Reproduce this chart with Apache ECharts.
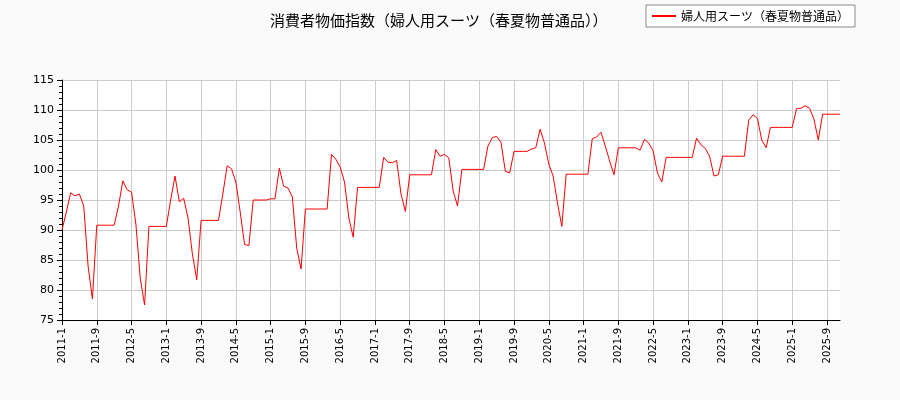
<!DOCTYPE html><html><head><meta charset="utf-8"><script src="https://cdn.jsdelivr.net/npm/echarts@6/dist/echarts.min.js"></script></head><body style="margin:0;background:#fafafa"><div id="c" style="width:900px;height:400px"></div><script>
const v2011=[90,93,96.2,95.7,96,94,84,78.5,90.8,90.8,90.8,90.8];
const v2012=[90.8,94,98.2,96.7,96.3,91,82,77.5,90.6,90.6,90.6,90.6];
const v2013=[90.6,95,99,94.7,95.3,92,86,81.7,91.6,91.6,91.6,91.6];
const v2014=[91.6,96,100.7,100.2,98,93,87.6,87.4,95,95,95,95];
const v2015=[95.2,95.2,100.3,97.3,97,95.5,87,83.5,93.5,93.5,93.5,93.5];
const v2016=[93.5,93.5,102.6,101.8,100.5,98,92,88.8,97.1,97.1,97.1,97.1];
const v2017=[97.1,97.1,102.1,101.3,101.2,101.6,96,93.1,99.2,99.2,99.2,99.2];
const v2018=[99.2,99.2,103.4,102.3,102.6,102,96.5,94,100.1,100.1,100.1,100.1];
const v2019=[100.1,100.1,104,105.4,105.6,104.6,99.8,99.5,103.1,103.1,103.1,103.1];
const v2020=[103.5,103.7,106.8,104.5,101,99,94.5,90.6,99.3,99.3,99.3,99.3];
const v2021=[99.3,99.3,105.2,105.5,106.3,104,101.5,99.2,103.7,103.7,103.7,103.7];
const v2022=[103.7,103.3,105.1,104.5,103.2,99.5,98,102.1,102.1,102.1,102.1,102.1];
const v2023=[102.1,102.1,105.3,104.2,103.6,102.3,99,99.2,102.3,102.3,102.3,102.3];
const v2024=[102.3,102.3,108.3,109.2,108.6,105,103.7,107.1,107.1,107.1,107.1,107.1];
const v2025=[107.1,110.2,110.3,110.7,110.3,108.5,105,109.3,109.3,109.3,109.3,109.3];
const values=[].concat(v2011,v2012,v2013,v2014,v2015,v2016,v2017,v2018,v2019,v2020,v2021,v2022,v2023,v2024,v2025);
const categories=[];for(let y=2011;y<=2025;y++)for(let m=1;m<=12;m++)categories.push(y+'-'+m);
const yTicks=[75,80,85,90,95,100,105,110,115];
const ch=echarts.init(document.getElementById('c'));
ch.setOption({backgroundColor:'#fafafa',animation:false,
title:{text:'消費者物価指数（婦人用スーツ（春夏物普通品））',left:265,top:8,textStyle:{fontSize:15,fontWeight:'normal',color:'#000',fontFamily:'Noto Sans CJK JP'}},
legend:{right:45,top:5,itemWidth:24,itemHeight:2,borderColor:'#888',borderWidth:1,borderRadius:0,padding:[5,6],backgroundColor:'#fff',textStyle:{fontSize:12,color:'#000',fontFamily:'Noto Sans CJK JP'},icon:'rect',data:['婦人用スーツ（春夏物普通品）']},
grid:{left:62,right:60,top:80,bottom:80,backgroundColor:'#fff',show:true,borderWidth:0},
xAxis:{type:'category',data:categories,boundaryGap:false,axisLine:{lineStyle:{color:'#000'}},axisTick:{interval:7,lineStyle:{color:'#000'}},axisLabel:{interval:7,rotate:90,fontSize:10,color:'#000',fontFamily:'DejaVu Sans'},splitLine:{show:true,interval:7,lineStyle:{color:'#ccc'}}},
yAxis:{type:'value',min:yTicks[0],max:yTicks[yTicks.length-1],interval:5,axisLine:{show:true,lineStyle:{color:'#000'}},axisTick:{show:true,lineStyle:{color:'#000'}},minorTick:{show:true,splitNumber:5,length:3,lineStyle:{color:'#000'}},axisLabel:{fontSize:11,color:'#000',fontFamily:'DejaVu Sans'},splitLine:{lineStyle:{color:'#ccc'}}},
series:[{name:'婦人用スーツ（春夏物普通品）',type:'line',data:values,showSymbol:false,lineStyle:{color:'#f00',width:1},itemStyle:{color:'#f00'}}]});
</script></body></html>
